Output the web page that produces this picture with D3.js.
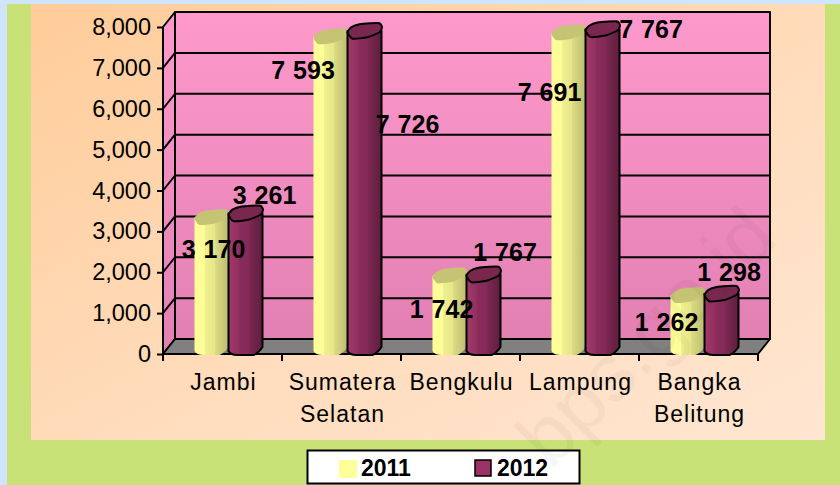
<!DOCTYPE html>
<html lang="en">
<head>
    <meta charset="UTF-8">
    <title>Jambi chart</title>
    <script src="https://d3js.org/d3.v7.min.js"></script>
    <style>
        html, body { margin: 0; padding: 0; background: #cfe5fb; }
        svg { display: block; }
        text { font-family: "Liberation Sans", Arial, sans-serif; fill: #000; }
    </style>
</head>
<body>
    <svg id="svg1" width="840" height="485"></svg>

    <script>
        // data ---------------------------------------------------------------
        const categories = [["Jambi"], ["Sumatera", "Selatan"], ["Bengkulu"], ["Lampung"], ["Bangka", "Belitung"]];
        const years = ["2011", "2012"];
        const values2011 = [3170, 7593, 1742, 7691, 1262];
        const values2012 = [3261, 7726, 1767, 7767, 1298];
        const labels2011 = ["3 170", "7 593", "1 742", "7 691", "1 262"];
        const labels2012 = ["3 261", "7 726", "1 767", "7 767", "1 298"];
        const yTicks = [0, 1000, 2000, 3000, 4000, 5000, 6000, 7000, 8000];

        // label positions relative to the bar top, as the original chart placed them
        const labelNudge2011 = [[2, 33.6], [-27.5, 35.4], [-8, 35.2], [-19, 61.4], [-21, 28.6]];
        const labelNudge2012 = [[19, -16.7], [43, 94.8], [21.5, -20.8], [48.5, 1.5], [7.5, -19.9]];

        // chart frame --------------------------------------------------------
        const svg = d3.select("svg#svg1");
        const frontLeft = 163, frontRight = 758, frontBottom = 354, frontTop = 27;
        const depthX = 12, depthY = -15;

        const xScale = d3.scaleBand().domain(d3.range(categories.length)).range([frontLeft, frontRight]);
        const yScale = d3.scaleLinear().domain([0, 8000]).range([frontBottom, frontTop]);

        // gradients ----------------------------------------------------------
        const defs = svg.append("defs");

        function linear(id, x2, y2, stops) {
            const g = defs.append("linearGradient").attr("id", id)
                .attr("x1", 0).attr("y1", 0).attr("x2", x2).attr("y2", y2);
            stops.forEach(s => g.append("stop").attr("offset", s[0]).attr("stop-color", s[1]));
        }
        linear("panelFill", 1, 1, [[0, "#ffcc99"], [0.55, "#ffdcbc"], [1, "#ffe6d2"]]);
        linear("wallFill", 0, 1, [[0, "#ff99cc"], [1, "#e280b4"]]);
        linear("sideFill", 0, 1, [[0, "#ff99cc"], [1, "#e280b4"]]);
        linear("yellowBar", 1, 0, [[0, "#ffff99"], [0.3, "#fdfd98"], [0.31, "#f0f090"], [0.6, "#e6e68a"], [0.61, "#dcdc84"], [1, "#bcbc70"]]);
        linear("purpleBar", 1, 0, [[0, "#a03a6c"], [0.3, "#93305f"], [0.31, "#8a2c5c"], [0.6, "#842a58"], [0.61, "#7c2852"], [1, "#5e1e3e"]]);

        // background ---------------------------------------------------------
        svg.append("rect").attr("x", 7).attr("y", 4).attr("width", 833).attr("height", 481).attr("fill", "#c8e277");
        svg.append("rect").attr("x", 31).attr("y", 4).attr("width", 794).attr("height", 436).attr("fill", "url(#panelFill)");

        // walls and floor ----------------------------------------------------
        const lineW = 2;
        const frame = svg.append("g").attr("stroke", "#000").attr("stroke-width", lineW).attr("stroke-linejoin", "round");

        frame.append("rect")
            .attr("x", frontLeft + depthX).attr("y", frontTop + depthY)
            .attr("width", frontRight - frontLeft).attr("height", frontBottom - frontTop)
            .attr("fill", "url(#wallFill)");

        frame.append("path").attr("fill", "url(#sideFill)")
            .attr("d", d3.line()([[frontLeft, frontBottom], [frontLeft, frontTop], [frontLeft + depthX, frontTop + depthY], [frontLeft + depthX, frontBottom + depthY]]) + "Z");

        frame.append("path").attr("fill", "#808080")
            .attr("d", d3.line()([[frontLeft, frontBottom], [frontLeft + depthX, frontBottom + depthY], [frontRight + depthX, frontBottom + depthY], [frontRight, frontBottom]]) + "Z");

        // grid lines run along the side wall and across the back wall
        frame.selectAll("path.grid").data(yTicks.slice(1, -1)).join("path")
            .attr("class", "grid").attr("fill", "none")
            .attr("d", d => d3.line()([[frontLeft, yScale(d)], [frontLeft + depthX, yScale(d) + depthY], [frontRight + depthX, yScale(d) + depthY]]));

        // axes ---------------------------------------------------------------
        const axisY = svg.append("g").attr("transform", `translate(${frontLeft},0)`)
            .call(d3.axisLeft(yScale).tickValues(yTicks).tickFormat(d3.format(",")).tickSize(6).tickPadding(6));
        axisY.select(".domain").remove();
        axisY.selectAll("line").attr("stroke", "#000").attr("stroke-width", lineW);
        axisY.selectAll("text").attr("font-size", 23.5).attr("fill", "#000");

        const axisLine = svg.append("g").attr("stroke", "#000").attr("stroke-width", lineW);
        axisLine.append("line").attr("x1", frontLeft).attr("x2", frontRight).attr("y1", frontBottom).attr("y2", frontBottom);
        axisLine.selectAll("line.tick").data(d3.range(categories.length + 1)).join("line")
            .attr("class", "tick")
            .attr("x1", i => frontLeft + i * xScale.bandwidth()).attr("x2", i => frontLeft + i * xScale.bandwidth())
            .attr("y1", frontBottom).attr("y2", frontBottom + 7);

        // category labels
        const catText = svg.append("g").selectAll("text").data(categories).join("text")
            .attr("text-anchor", "middle").attr("font-size", 23).attr("letter-spacing", 1);
        catText.each(function (lines, i) {
            d3.select(this).selectAll("tspan").data(lines).join("tspan")
                .attr("x", xScale(i) + xScale.bandwidth() / 2 + 1)
                .attr("y", (d, j) => 390 + j * 32)
                .text(d => d);
        });

        // cylinders ----------------------------------------------------------
        const barRx = 17, barDepthX = 6, barDepthY = -7;
        // the cap is a rough tilted ellipse, low edge on the left, high on the right
        const capShape = [[-17, 1], [-13, -4], [-5, -7], [6, -8], [15, -8], [17.5, -4], [15, 1], [3, 6], [-12, 7.5]];
        const capLine = d3.line().curve(d3.curveCardinalClosed.tension(0.4));

        function cylinder(g, cx, v, bodyFill, topFill, stroke) {
            const top = yScale(v) + barDepthY, base = yScale(0) + barDepthY;
            g.append("path")
                .attr("d", `M${cx - barRx},${top}V${base + 4}Q${cx - 15},${base + 8} ${cx - 8},${base + 8}`
                    + `L${cx + 8},${base + 8}Q${cx + 13},${base + 6} ${cx + barRx},${base}V${top}Z`)
                .attr("fill", bodyFill).attr("stroke", stroke).attr("stroke-width", stroke === "none" ? 0 : lineW);
            g.append("path")
                .attr("d", capLine(capShape.map(p => [cx + p[0], top + p[1]])))
                .attr("fill", topFill).attr("stroke", stroke).attr("stroke-width", stroke === "none" ? 0 : lineW);
        }

        const bars = svg.append("g");
        categories.forEach((c, i) => {
            const mid = xScale(i) + xScale.bandwidth() / 2 + barDepthX;
            cylinder(bars, mid - barRx, values2011[i], "url(#yellowBar)", "#c4c474", "none");
            cylinder(bars, mid + barRx, values2012[i], "url(#purpleBar)", "#79274f", "#000");
        });

        // data labels --------------------------------------------------------
        const dataLabels = svg.append("g").attr("font-size", 25).attr("font-weight", "bold")
            .attr("text-anchor", "middle").attr("word-spacing", 1);
        categories.forEach((c, i) => {
            const mid = xScale(i) + xScale.bandwidth() / 2 + barDepthX;
            dataLabels.append("text")
                .attr("x", mid - barRx + labelNudge2011[i][0])
                .attr("y", yScale(values2011[i]) + labelNudge2011[i][1])
                .text(labels2011[i]);
            dataLabels.append("text")
                .attr("x", mid + barRx + labelNudge2012[i][0])
                .attr("y", yScale(values2012[i]) + labelNudge2012[i][1])
                .text(labels2012[i]);
        });

        // legend -------------------------------------------------------------
        const legend = svg.append("g");
        legend.append("rect").attr("x", 307.5).attr("y", 450.5).attr("width", 272).attr("height", 33)
            .attr("fill", "#fff").attr("stroke", "#000").attr("stroke-width", 2);
        legend.append("rect").attr("x", 339).attr("y", 460).attr("width", 18).attr("height", 18).attr("fill", "#ffff99");
        legend.append("rect").attr("x", 475).attr("y", 460).attr("width", 16).attr("height", 16)
            .attr("fill", "#993366").attr("stroke", "#000").attr("stroke-width", 1.5);
        legend.selectAll("text").data(years).join("text")
            .attr("x", (d, i) => i === 0 ? 361 : 497).attr("y", 476)
            .attr("font-size", 23).attr("font-weight", "bold").text(d => d);

        // watermark sits over everything, very faint
        svg.append("text")
            .attr("transform", "translate(780,241) rotate(-45)")
            .attr("text-anchor", "end").attr("font-size", 80)
            .style("fill", "#000").attr("fill-opacity", 0.035)
            .text("bps.go.id");
    </script>
</body>
</html>
